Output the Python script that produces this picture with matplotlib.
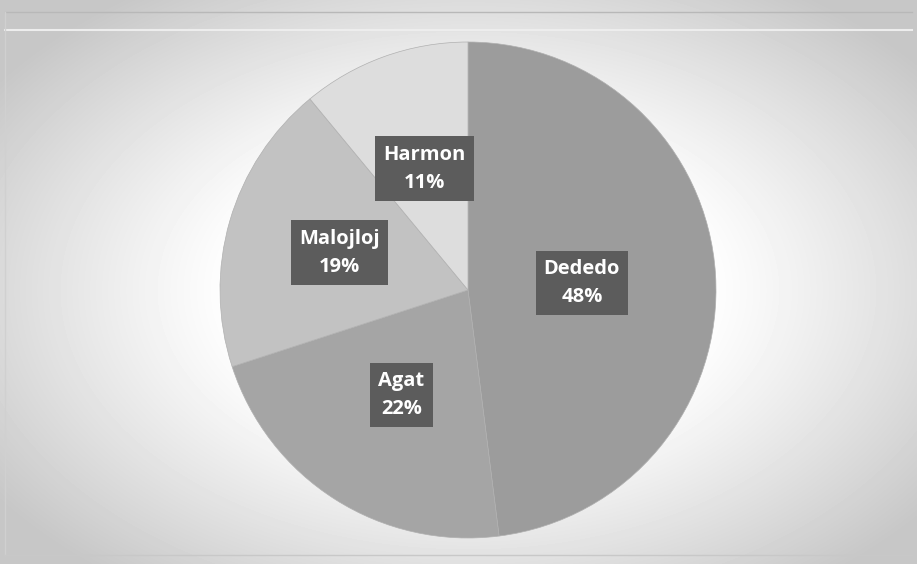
import numpy as np
import matplotlib.pyplot as plt

categories = ["Dededo", "Agat", "Malojloj", "Harmon"]
values = [48, 22, 19, 11]
colors = ["#9c9c9c", "#a5a5a5", "#c2c2c2", "#dddddd"]
label_r = [0.46, 0.50, 0.54, 0.52]

fig = plt.figure(figsize=(9.17, 5.64), dpi=100)

# background radial gradient
bg = fig.add_axes([0, 0, 1, 1])
yy, xx = np.mgrid[0:564, 0:917]
d = np.sqrt(((xx - 468) / 520.0) ** 2 + ((yy - 290) / 330.0) ** 2)
shade = np.clip(1.0 - 0.22 * np.clip(d - 0.45, 0, None) ** 1.1 * 1.6, 0.78, 1.0)
bg.imshow(shade, cmap="gray", vmin=0, vmax=1, extent=[0, 917, 564, 0], aspect="auto")
bg.plot([5, 912], [12, 12], color="#b8b8b8", lw=1)
bg.plot([5, 912], [30, 30], color="#ededed", lw=1.5)
bg.plot([5, 5], [12, 555], color="#d0d0d0", lw=1)
bg.plot([5, 912], [555, 555], color="#c8c8c8", lw=1)
bg.set_xlim(0, 917)
bg.set_ylim(564, 0)
bg.axis("off")

r_px = 248
cx, cy = 468, 290
ax = fig.add_axes([(cx - r_px) / 917, (564 - cy - r_px) / 564, 2 * r_px / 917, 2 * r_px / 564])
wedges, _ = ax.pie(values, colors=colors, startangle=90, counterclock=False,
                   wedgeprops=dict(edgecolor="#b0b0b0", linewidth=0.5))
ax.set_xlim(-1, 1)
ax.set_ylim(-1, 1)
ax.set_aspect("auto")

for w, cat, v, r in zip(wedges, categories, values, label_r):
    th = np.deg2rad((w.theta1 + w.theta2) / 2)
    ax.text(r * np.cos(th), r * np.sin(th), f"{cat}\n{v}%", ha="center", va="center",
            color="white", fontsize=14.5, fontweight="bold", family="Open Sans",
            linespacing=1.55,
            bbox=dict(boxstyle="square,pad=0.4", facecolor="#5c5c5c", edgecolor="none"))

fig.savefig("out.png", dpi=100)
